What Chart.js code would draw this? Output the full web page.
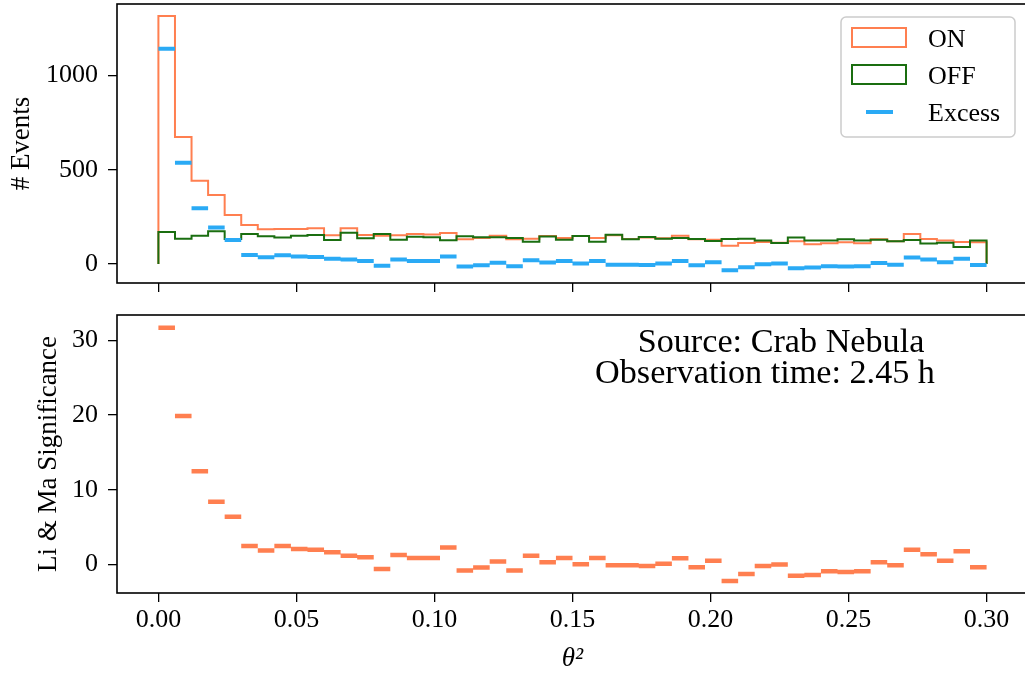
<!DOCTYPE html>
<html><head><meta charset="utf-8">
<script src="https://cdn.jsdelivr.net/npm/chart.js@4"></script>
<style>
html,body{margin:0;padding:0;overflow:hidden;background:#fff;width:1025px;height:675px;}
#wrap{position:relative;width:1025px;height:675px;overflow:hidden;background:#fff;}
canvas{position:absolute;left:0;}
</style></head><body>
<div id="wrap">
<canvas id="topChart" width="1040" height="300" style="top:0;width:1040px;height:300px"></canvas>
<canvas id="botChart" width="1040" height="375" style="top:300px;width:1040px;height:375px"></canvas>
</div>
<script>
// ---- data ----
const nBins = 50;
const thetaSqMin = 0.0;
const thetaSqMax = 0.3;
const onCounts = [1316,674,442,366,260,207,184,186,186,189,152,189,154,150,152,159,156,164,131,138,149,131,134,148,
  138,148,138,152,133,140,136,150,131,129,97,111,117,113,120,104,110,115,110,131,120,159,133,124,117,115];
const offCounts = [170,134,149,173,133,159,147,141,149,154,127,166,136,159,129,145,142,126,147,142,142,138,118,146,
  129,148,118,155,131,143,134,138,133,122,133,134,124,111,140,124,124,131,125,129,120,127,108,113,90,124];
const excessCounts = [1142,537,295,193,127,48,35,46,39,37,28,23,16,-9,23,16,16,39,-14,-7,7,-12,20,8,
  16,2,16,-4,-4,-5,2,16,-7,9,-34,-18,-2,2,-23,-19,-12,-14,-12,5,-4,34,23,9,28,-5];
const significance = [31.7,19.9,12.5,8.4,6.4,2.5,1.9,2.5,2.1,2.0,1.65,1.2,1.0,-0.6,1.3,0.9,0.9,2.3,-0.8,-0.4,0.4,-0.8,1.2,0.3,
  0.9,0.05,0.9,-0.1,-0.1,-0.2,0.1,0.85,-0.35,0.5,-2.2,-1.25,-0.2,0.0,-1.5,-1.4,-0.9,-1.0,-0.9,0.3,-0.1,2.0,1.4,0.5,1.8,-0.35];
const xTickValues = [0.00, 0.05, 0.10, 0.15, 0.20, 0.25, 0.30];
const countTickValues = [0, 500, 1000];
const sigTickValues = [0, 10, 20, 30];
const seriesLabels = ['ON', 'OFF', 'Excess'];
const xTitle = 'θ²';
const countTitle = '# Events';
const sigTitle = 'Li & Ma Significance';
const annotationLines = ['Source: Crab Nebula', 'Observation time: 2.45 h'];

// ---- helpers ----
const FONT = "'Liberation Serif', 'DejaVu Serif', serif";
const COL_ON = '#ff7f50', COL_OFF = '#1a6e10', COL_EX = '#2aaaf5';
const binEdges = Array.from({length: nBins + 1}, (_, i) => thetaSqMin + i * (thetaSqMax - thetaSqMin) / nBins);
function stepPoints(vals) {
  const pts = [{x: binEdges[0], y: 0}];
  vals.forEach((v, i) => pts.push({x: binEdges[i], y: v}));
  pts.push({x: binEdges[nBins], y: vals[vals.length - 1]});
  pts.push({x: binEdges[nBins], y: 0});
  return pts;
}
function segPoints(vals) {
  const pts = [];
  vals.forEach((v, i) => {
    pts.push({x: binEdges[i], y: v});
    pts.push({x: binEdges[i + 1], y: v});
    pts.push({x: binEdges[i + 1], y: null});
  });
  return pts;
}
function noPad(s) { s.paddingTop = 0; s.paddingBottom = 0; s.paddingLeft = 0; s.paddingRight = 0; }
Chart.defaults.font.family = FONT;
Chart.defaults.color = '#000';

const framePlugin = {
  id: 'frame',
  afterDraw(chart) {
    const a = chart.chartArea, ctx = chart.ctx;
    ctx.save();
    ctx.strokeStyle = '#000';
    ctx.lineWidth = 1.6;
    ctx.strokeRect(a.left, a.top, a.right - a.left, a.bottom - a.top);
    ctx.restore();
  }
};

function xScale(showLabels, h, withTitle) {
  return {
    type: 'linear', min: -0.015, max: 0.315,
    afterBuildTicks: s => { s.ticks = xTickValues.map(v => ({value: v})); },
    afterFit: s => { s.height = h; noPad(s); },
    grid: {drawOnChartArea: false, drawTicks: true, tickLength: 9, color: '#000', lineWidth: 1.3},
    border: {display: false},
    ticks: {display: showLabels, autoSkip: false, maxRotation: 0, padding: 3,
      font: {size: 26}, color: '#000', callback: v => Number(v).toFixed(2)},
    title: {display: withTitle, text: xTitle, font: {size: 27, style: 'italic'}, color: '#000', padding: {top: 0, bottom: 0}}
  };
}
function yScale(min, max, tickVals, title, titlePad) {
  return {
    type: 'linear', min: min, max: max,
    afterBuildTicks: s => { s.ticks = tickVals.map(v => ({value: v})); },
    afterFit: s => { s.width = 117; noPad(s); },
    grid: {drawOnChartArea: false, drawTicks: true, tickLength: 9, color: '#000', lineWidth: 1.3},
    border: {display: false},
    ticks: {padding: 10, font: {size: 26}, color: '#000', callback: v => String(v)},
    title: {display: true, text: title, font: {size: 27}, color: '#000', padding: {top: titlePad, bottom: 0}}
  };
}

const legendPlugin = {
  id: 'boxLegend',
  afterDraw(chart) {
    const ctx = chart.ctx;
    const ds = chart.data.datasets;
    ctx.save();
    const bx = 841, by = 17, bw = 174, bh = 120, r = 5;
    ctx.beginPath();
    ctx.moveTo(bx + r, by);
    ctx.arcTo(bx + bw, by, bx + bw, by + bh, r);
    ctx.arcTo(bx + bw, by + bh, bx, by + bh, r);
    ctx.arcTo(bx, by + bh, bx, by, r);
    ctx.arcTo(bx, by, bx + bw, by, r);
    ctx.closePath();
    ctx.fillStyle = 'rgba(255,255,255,0.8)';
    ctx.fill();
    ctx.strokeStyle = '#cccccc';
    ctx.lineWidth = 1.5;
    ctx.stroke();
    ctx.lineWidth = 2;
    ctx.strokeStyle = ds[0].borderColor;
    ctx.strokeRect(852, 28, 54, 19);
    ctx.strokeStyle = ds[1].borderColor;
    ctx.strokeRect(852, 65, 54, 19);
    ctx.strokeStyle = ds[2].borderColor;
    ctx.lineWidth = 4;
    ctx.beginPath(); ctx.moveTo(866, 112); ctx.lineTo(893, 112); ctx.stroke();
    ctx.fillStyle = '#000';
    ctx.font = "26px " + FONT;
    ctx.textAlign = 'left';
    ctx.textBaseline = 'alphabetic';
    ctx.fillText(ds[0].label, 928, 47);
    ctx.fillText(ds[1].label, 928, 84);
    ctx.fillText(ds[2].label, 928, 121);
    ctx.restore();
  }
};

const annotationPlugin = {
  id: 'annot',
  afterDraw(chart) {
    const ctx = chart.ctx;
    ctx.save();
    ctx.font = "100px " + FONT;
    const w = ctx.measureText(annotationLines[1]).width;
    const size = 100 * 340 / w;
    ctx.font = size.toFixed(2) + "px " + FONT;
    ctx.fillStyle = '#000';
    ctx.textAlign = 'center';
    ctx.textBaseline = 'alphabetic';
    ctx.fillText(annotationLines[0], 781, 52);
    ctx.fillText(annotationLines[1], 765, 83);
    ctx.restore();
  }
};

new Chart(document.getElementById('topChart'), {
  type: 'line',
  data: {
    datasets: [
      {label: seriesLabels[0], data: stepPoints(onCounts), borderColor: COL_ON, borderWidth: 2, stepped: 'before',
       pointRadius: 0, fill: false, order: 3},
      {label: seriesLabels[1], data: stepPoints(offCounts), borderColor: COL_OFF, borderWidth: 2, stepped: 'before',
       pointRadius: 0, fill: false, order: 2},
      {label: seriesLabels[2], data: segPoints(excessCounts), borderColor: COL_EX, borderWidth: 4, borderCapStyle: 'butt',
       pointRadius: 0, fill: false, spanGaps: false, order: 1}
    ]
  },
  options: {
    responsive: false, animation: false, devicePixelRatio: 1,
    layout: {padding: {top: 4, right: 12, left: 0, bottom: 0}},
    plugins: {legend: {display: false}, tooltip: {enabled: false}},
    scales: {
      x: xScale(false, 17, false),
      y: yScale(-101, 1379, countTickValues, countTitle, 6)
    }
  },
  plugins: [framePlugin, legendPlugin]
});

new Chart(document.getElementById('botChart'), {
  type: 'line',
  data: {
    datasets: [
      {label: 'Li & Ma', data: segPoints(significance), borderColor: COL_ON, borderWidth: 4.5, borderCapStyle: 'butt',
       pointRadius: 0, fill: false, spanGaps: false}
    ]
  },
  options: {
    responsive: false, animation: false, devicePixelRatio: 1,
    layout: {padding: {top: 15, right: 12, left: 0, bottom: 0}},
    plugins: {legend: {display: false}, tooltip: {enabled: false}},
    scales: {
      x: xScale(true, 82, true),
      y: yScale(-3.8, 33.4, sigTickValues, sigTitle, 33)
    }
  },
  plugins: [framePlugin, annotationPlugin]
});
</script>
</body></html>
